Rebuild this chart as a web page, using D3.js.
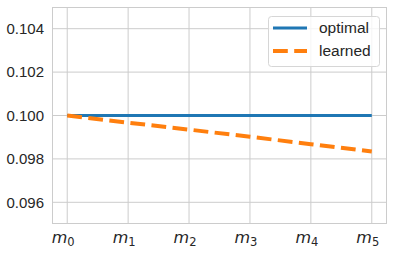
<!DOCTYPE html>
<html lang="en">
    <head>
        <meta charset="UTF-8" />
        <title>optimal vs learned</title>
        <script src="https://d3js.org/d3.v7.min.js"></script>
        <style>
            body {
                margin: 0;
                padding: 0;
                background: #ffffff;
            }
            svg text {
                fill: #262626;
            }
            .tick-y text {
                font-family: 'Liberation Sans', Arial, sans-serif;
                font-size: 15px;
            }
            .tick-x text {
                font-family: 'DejaVu Sans', sans-serif;
                font-size: 16px;
                font-style: italic;
            }
            .legend text {
                font-family: 'Liberation Sans', Arial, sans-serif;
                font-size: 15.5px;
            }
            .grid line {
                stroke: #cccccc;
                stroke-width: 1px;
            }
        </style>
    </head>
    <body>
        <svg id="chart" width="393" height="254"></svg>

        <script>
            const steps = [0, 1, 2, 3, 4, 5];
            const optimal = [0.1, 0.1, 0.1, 0.1, 0.1, 0.1];
            const learned = [0.1, 0.09967, 0.09935, 0.09902, 0.09868, 0.09834];
            const yTicks = [0.096, 0.098, 0.1, 0.102, 0.104];

            const svg = d3.select('#chart');
            const margin = { top: 7, right: 6, bottom: 30, left: 52 };
            const width = +svg.attr('width') - margin.left - margin.right;
            const height = +svg.attr('height') - margin.top - margin.bottom;

            const x = d3.scaleLinear().domain([-0.25, 5.25]).range([0, width]);
            const y = d3.scaleLinear().domain([0.095, 0.105]).range([height, 0]);

            const g = svg.append('g').attr('transform', `translate(${margin.left},${margin.top})`);

            // grid
            const grid = g.append('g').attr('class', 'grid');
            grid.selectAll('.gx')
                .data(steps)
                .join('line')
                .attr('x1', (d) => x(d))
                .attr('x2', (d) => x(d))
                .attr('y1', 0)
                .attr('y2', height);
            grid.selectAll('.gy')
                .data(yTicks)
                .join('line')
                .attr('class', 'gy')
                .attr('x1', 0)
                .attr('x2', width)
                .attr('y1', (d) => y(d))
                .attr('y2', (d) => y(d));

            // spines
            g.append('rect')
                .attr('x', 0.5)
                .attr('y', 0.5)
                .attr('width', width - 1)
                .attr('height', height - 1)
                .attr('fill', 'none')
                .attr('stroke', '#cccccc')
                .attr('stroke-width', 1);

            // y ticks
            const yAxis = g.append('g').attr('class', 'tick-y');
            yAxis.selectAll('text')
                .data(yTicks)
                .join('text')
                .attr('x', -8)
                .attr('y', (d) => y(d))
                .attr('dy', '0.35em')
                .attr('text-anchor', 'end')
                .text((d) => d3.format('.3f')(d));

            // x ticks: m with subscript
            const xAxis = g.append('g').attr('class', 'tick-x');
            const xt = xAxis.selectAll('text')
                .data(steps)
                .join('text')
                .attr('x', (d) => x(d) - 4)
                .attr('y', height + 19)
                .attr('text-anchor', 'middle');
            xt.append('tspan').text('m');
            xt.append('tspan')
                .attr('dy', 3)
                .attr('font-size', '11.5px')
                .attr('font-style', 'normal')
                .text((d) => d);

            const line = d3
                .line()
                .x((d, i) => x(steps[i]))
                .y((d) => y(d));

            g.append('path')
                .datum(optimal)
                .attr('fill', 'none')
                .attr('stroke', '#1f77b4')
                .attr('stroke-width', 3)
                .attr('d', line);

            g.append('path')
                .datum(learned)
                .attr('fill', 'none')
                .attr('stroke', '#ff7f0e')
                .attr('stroke-width', 4)
                .attr('stroke-dasharray', '14.8,6.4')
                .attr('d', line);

            // legend
            const legend = svg.append('g').attr('class', 'legend').attr('transform', 'translate(268,16)');
            legend.append('rect')
                .attr('x', 0.5)
                .attr('y', 0.5)
                .attr('width', 111)
                .attr('height', 50)
                .attr('rx', 3)
                .attr('fill', 'rgba(255,255,255,0.8)')
                .attr('stroke', '#d6d6d6');
            const items = [
                { name: 'optimal', color: '#1f77b4', w: 3, dash: null },
                { name: 'learned', color: '#ff7f0e', w: 4, dash: '14.8,6.4' },
            ];
            items.forEach((it, i) => {
                const yy = 12 + i * 23;
                legend.append('line')
                    .attr('x1', 5)
                    .attr('x2', 39)
                    .attr('y1', yy)
                    .attr('y2', yy)
                    .attr('stroke', it.color)
                    .attr('stroke-width', it.w)
                    .attr('stroke-dasharray', it.dash);
                legend.append('text')
                    .attr('x', 51)
                    .attr('y', yy)
                    .attr('dy', '0.35em')
                    .text(it.name);
            });
        </script>
    </body>
</html>
